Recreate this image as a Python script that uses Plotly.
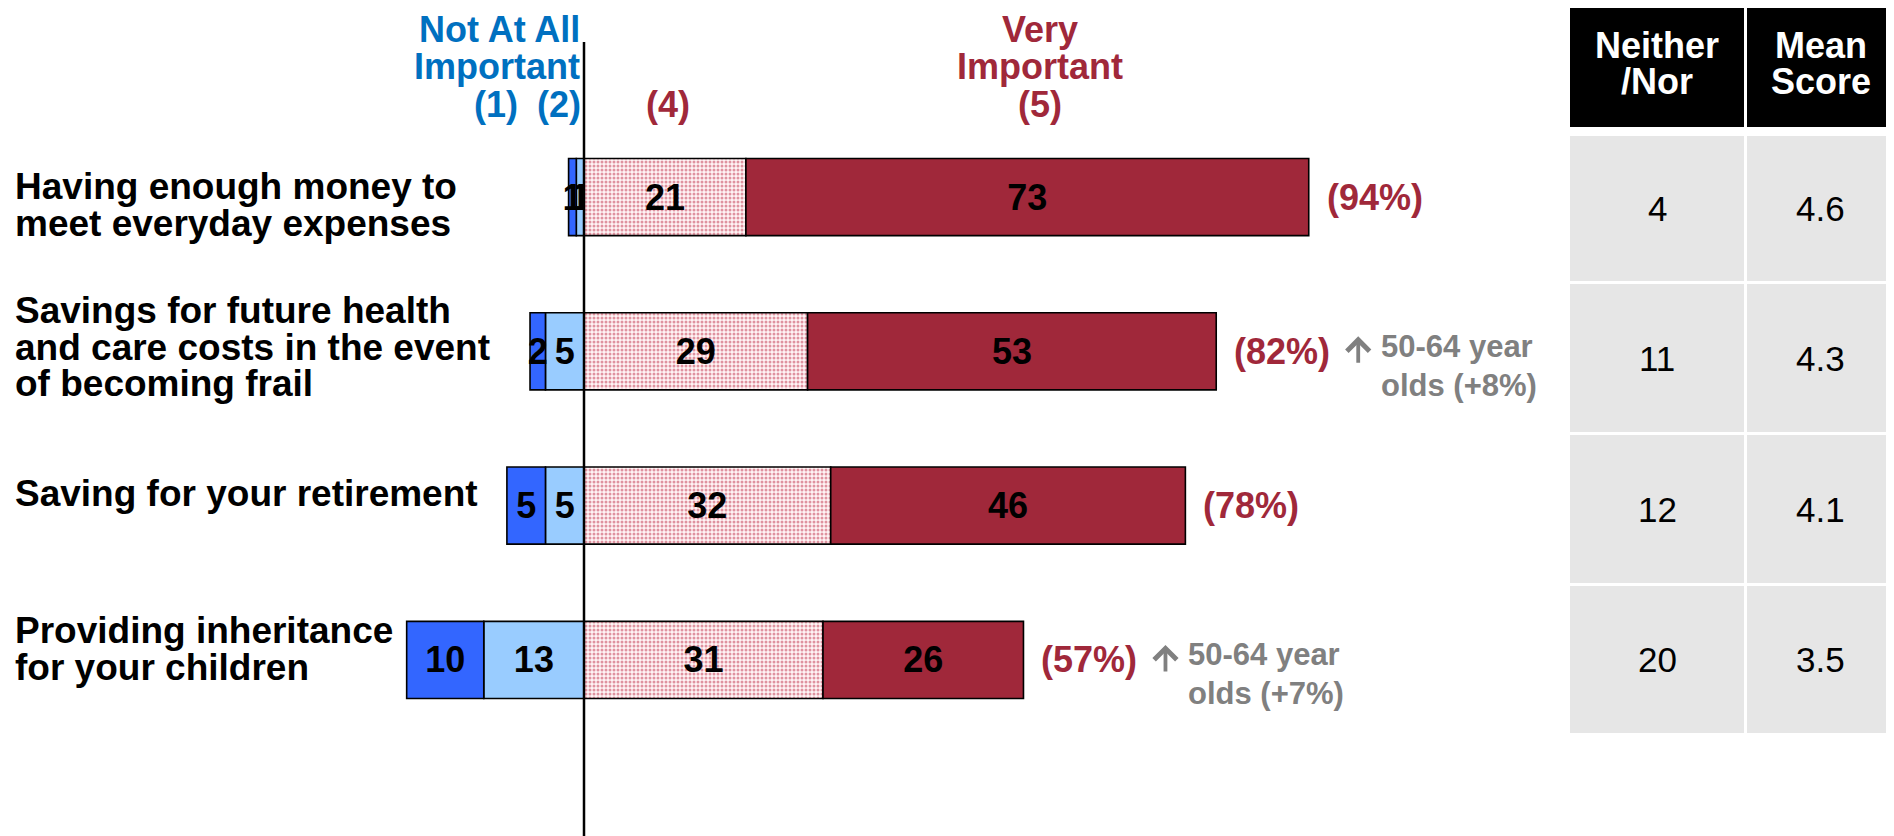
import plotly.graph_objects as go

W, H = 1894, 836          # browser window
OFF = 8                   # default page margin of the html body
FW, FH = W - OFF, H - OFF # figure size so that it fits the window exactly
FONT = "Liberation Sans, Arial, Helvetica, sans-serif"

# ---------------- data ----------------
categories = [
    "Having enough money to meet everyday expenses",
    "Savings for future health and care costs in the event of becoming frail",
    "Saving for your retirement",
    "Providing inheritance for your children",
]
category_lines = [
    ["Having enough money to", "meet everyday expenses"],
    ["Savings for future health", "and care costs in the event", "of becoming frail"],
    ["Saving for your retirement"],
    ["Providing inheritance", "for your children"],
]
not_at_all_important = [1, 2, 5, 10]   # (1)
not_very_important = [1, 5, 5, 13]     # (2)
fairly_important = [21, 29, 32, 31]    # (4)
very_important = [73, 53, 46, 26]      # (5)
total_important = [94, 82, 78, 57]
neither_nor = [4, 11, 12, 20]
mean_score = [4.6, 4.3, 4.1, 3.5]
subgroup_notes = [None, ["50-64 year", "olds (+8%)"], None, ["50-64 year", "olds (+7%)"]]

scale_left_lines = ["Not At All", "Important"]
scale_right_lines = ["Very", "Important"]
scale_points = ["(1)", "(2)", "(4)", "(5)"]
table_headers = [["Neither", "/Nor"], ["Mean", "Score"]]

# ---------------- colours ----------------
C_DARKBLUE = "#3366FF"
C_LIGHTBLUE = "#99CCFF"
C_RED = "#A0283A"
C_DOT = "#C0304A"
C_BLUE_TXT = "#0070C0"
C_GREY_TXT = "#808080"
C_TABLE = "#E6E6E6"

PX_PER_UNIT = 7.71
ZERO_PX = 584
ROW0_PX = 197
ROW_STEP = 154.3


def px_x(p):
    return (p - OFF) / FW


def px_y(p):
    return 1 - (p - OFF) / FH


fig = go.Figure()

bar_common = dict(
    orientation="h",
    y=categories,
    width=0.5,
    textposition="inside",
    insidetextanchor="middle",
    textangle=0,
    constraintext="none",
    textfont=dict(family=FONT, size=36, color="black", weight="bold"),
    marker_line=dict(color="black", width=1.6),
    hoverinfo="skip",
    showlegend=False,
    cliponaxis=False,
)

fig.add_trace(go.Bar(x=[-v for v in not_very_important], text=not_very_important,
                     texttemplate="%{text}", marker_color=C_LIGHTBLUE, **bar_common))
fig.add_trace(go.Bar(x=[-v for v in not_at_all_important], text=not_at_all_important,
                     texttemplate="%{text}", marker_color=C_DARKBLUE, **bar_common))
fig.add_trace(go.Bar(x=fairly_important, text=fairly_important, texttemplate="%{text}",
                     marker=dict(color="white",
                                 pattern=dict(shape=".", fgcolor=C_DOT, bgcolor="#FFF4F5",
                                              size=4, solidity=0.45)),
                     **bar_common))
fig.add_trace(go.Bar(x=very_important, text=very_important, texttemplate="%{text}",
                     marker_color=C_RED, **bar_common))

ann = []
shapes = []

# total important labels + subgroup notes
for cat, tot, note in zip(categories, total_important, subgroup_notes):
    ann.append(dict(x=tot, y=cat, xref="x", yref="y", text=f"<b>({tot}%)</b>",
                    xanchor="left", yanchor="middle", xshift=16, showarrow=False,
                    font=dict(family=FONT, size=36, color=C_RED)))
    if note:
        # upward arrow
        ann.append(dict(x=tot, y=cat, xref="x", yref="y", text="",
                        xshift=142, yshift=15, showarrow=True,
                        ax=0, ay=28, axref="pixel", ayref="pixel",
                        arrowhead=4, arrowsize=1.15, arrowwidth=3.8,
                        arrowcolor=C_GREY_TXT, standoff=0, startstandoff=0))
        for k, line in enumerate(note):
            ann.append(dict(x=tot, y=cat, xref="x", yref="y", text=f"<b>{line}</b>",
                            xanchor="left", yanchor="middle", xshift=163,
                            yshift=5 - 39 * k, showarrow=False,
                            font=dict(family=FONT, size=31, color=C_GREY_TXT)))

# category labels (left)
label_centres = [[187, 223], [310, 347, 383], [493], [630, 667]]
for lines, ys in zip(category_lines, label_centres):
    for line, yy in zip(lines, ys):
        ann.append(dict(x=px_x(13), y=px_y(yy), xref="paper", yref="paper",
                        text=f"<b>{line}</b>", xanchor="left", yanchor="middle",
                        showarrow=False, font=dict(family=FONT, size=37, color="black")))

# scale headers
for line, yy in zip(scale_left_lines, [29, 67]):
    ann.append(dict(x=px_x(581), y=px_y(yy), xref="paper", yref="paper",
                    text=f"<b>{line}</b>", xanchor="right", yanchor="middle", borderpad=0,
                    showarrow=False, font=dict(family=FONT, size=36, color=C_BLUE_TXT)))
for line, yy in zip(scale_right_lines, [29, 67]):
    ann.append(dict(x=px_x(1040), y=px_y(yy), xref="paper", yref="paper",
                    text=f"<b>{line}</b>", xanchor="center", yanchor="middle", borderpad=0,
                    showarrow=False, font=dict(family=FONT, size=36, color=C_RED)))
point_x = [496, 559, 668, 1040]
point_col = [C_BLUE_TXT, C_BLUE_TXT, C_RED, C_RED]
for lab, xx, col in zip(scale_points, point_x, point_col):
    ann.append(dict(x=px_x(xx), y=px_y(105), xref="paper", yref="paper",
                    text=f"<b>{lab}</b>", xanchor="center", yanchor="middle",
                    showarrow=False, font=dict(family=FONT, size=36, color=col)))

# side table
col_bounds = [(1570, 1744), (1747, 1894)]
row_bounds = [(136, 281), (284, 432), (435, 583), (586, 733)]
for (x0, x1), hdr in zip(col_bounds, table_headers):
    shapes.append(dict(type="rect", xref="paper", yref="paper", x0=px_x(x0), x1=px_x(x1),
                       y0=px_y(127), y1=px_y(2), fillcolor="black", line_width=0,
                       layer="below"))
    for line, yy in zip(hdr, [46, 82]):
        ann.append(dict(x=px_x((x0 + x1) / 2), y=px_y(yy), xref="paper", yref="paper",
                        text=f"<b>{line}</b>", xanchor="center", yanchor="middle",
                        borderpad=0,
                        showarrow=False, font=dict(family=FONT, size=36, color="white")))
    for (y0, y1) in row_bounds:
        shapes.append(dict(type="rect", xref="paper", yref="paper", x0=px_x(x0), x1=px_x(x1),
                           y0=px_y(y1), y1=px_y(y0), fillcolor=C_TABLE, line_width=0,
                           layer="below"))

for (y0, y1), nn, ms in zip(row_bounds, neither_nor, mean_score):
    for (x0, x1), val in zip(col_bounds, [f"{nn}", f"{ms:.1f}"]):
        ann.append(dict(x=px_x((x0 + x1) / 2), y=px_y((y0 + y1) / 2), xref="paper",
                        yref="paper", text=val, xanchor="center", yanchor="middle",
                        showarrow=False, font=dict(family=FONT, size=35, color="black")))

# zero line
shapes.append(dict(type="line", xref="x", yref="paper", x0=0, x1=0, y0=0, y1=px_y(42),
                   line=dict(color="black", width=2.5), layer="above"))

x_lo = (OFF - ZERO_PX) / PX_PER_UNIT
x_hi = (W - ZERO_PX) / PX_PER_UNIT
y_top = (OFF - ROW0_PX) / ROW_STEP
y_bot = (H - ROW0_PX) / ROW_STEP

fig.update_layout(
    width=FW, height=FH,
    margin=dict(l=0, r=0, t=0, b=0),
    barmode="relative",
    plot_bgcolor="white", paper_bgcolor="white",
    uniformtext=dict(minsize=36, mode="show"),
    xaxis=dict(range=[x_lo, x_hi], visible=False, fixedrange=True),
    yaxis=dict(type="category", categoryarray=categories, range=[y_bot, y_top],
               visible=False, fixedrange=True),
    annotations=ann,
    shapes=shapes,
    font=dict(family=FONT),
)

fig.write_html("out.html")
